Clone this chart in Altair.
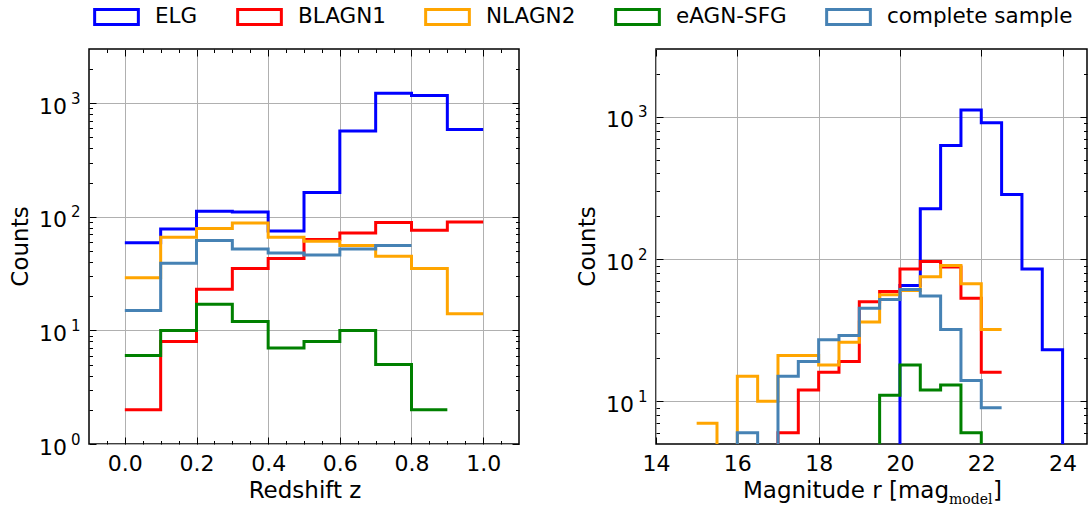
import altair as alt
import pandas as pd

SERIES = ["ELG", "BLAGN1", "NLAGN2", "eAGN-SFG", "complete sample"]
COLORS = ["#0000ff", "#ff0000", "#ffa500", "#008000", "#4682b4"]

# Redshift histograms: bins of width 0.1, every series starts at z = 0
Z_BIN = 0.1
Z_START = [0.0, 0.0, 0.0, 0.0, 0.0]
elg_z = [59, 78, 112, 110, 75, 164, 570, 1225, 1167, 586]
blagn1_z = [2, 8, 23, 35, 43, 63, 72, 89, 76, 90]
nlagn2_z = [29, 66, 79, 88, 66, 61, 56, 45, 35, 14]
eagn_sfg_z = [6, 10, 17, 12, 7, 8, 10, 5, 2]
complete_z = [15, 39, 62, 52, 48, 46, 52, 56]

# r-band magnitude histograms: bins of width 0.5 mag (first bin edge per series)
R_BIN = 0.5
R_START = [19.5, 16.5, 15.0, 19.0, 15.5]
elg_r = [0, 65, 226, 628, 1115, 909, 284, 85, 23, 0]
blagn1_r = [0, 6, 12, 16, 19, 50, 59, 85, 96, 88, 53, 16]
nlagn2_r = [7, 0, 15, 10, 21, 21, 18, 26, 36, 56, 60, 75, 90, 67, 32]
eagn_sfg_r = [0, 11, 18, 12, 13, 6, 0]
complete_r = [0, 6, 0, 15, 19, 27, 29, 45, 52, 61, 55, 32, 14, 9]

# tick values
Z_MAJOR = [0.0, 0.2, 0.4, 0.6, 0.8, 1.0]
Z_MINOR = [-0.05, 0.05, 0.1, 0.15, 0.25, 0.3, 0.35, 0.45, 0.5, 0.55,
           0.65, 0.7, 0.75, 0.85, 0.9, 0.95, 1.05]
R_MAJOR = [14, 16, 18, 20, 22, 24]
N_MAJOR_Z = [1, 10, 100, 1000]
N_MAJOR_R = [10, 100, 1000]
N_MINOR_Z = [2, 3, 4, 5, 6, 7, 8, 9, 20, 30, 40, 50, 60, 70, 80, 90,
             200, 300, 400, 500, 600, 700, 800, 900, 2000]
N_MINOR_R = [6, 7, 8, 9, 20, 30, 40, 50, 60, 70, 80, 90,
             200, 300, 400, 500, 600, 700, 800, 900, 2000]

FONT = "DejaVu Sans"
TICK_FONT = 22
TITLE_FONT = 23
MAJ, MIN = 7, 3.5
H = 395
W_LEFT, W_RIGHT = 430, 431


def step_rows(start, width, counts, name):
    rows = [{"edge": round(start + i * width, 4), "count": c, "series": name}
            for i, c in enumerate(counts)]
    rows.append({"edge": round(start + len(counts) * width, 4),
                 "count": counts[-1], "series": name})
    return rows


def table(starts, width, groups):
    rows = []
    for name, start, counts in zip(SERIES, starts, groups):
        rows += step_rows(start, width, counts, name)
    return pd.DataFrame(rows)


z_df = table(Z_START, Z_BIN, [elg_z, blagn1_z, nlagn2_z, eagn_sfg_z, complete_z])
r_df = table(R_START, R_BIN, [elg_r, blagn1_r, nlagn2_r, eagn_sfg_r, complete_r])

LEGEND = alt.Legend(
    title=None, orient="none", direction="horizontal", legendX=4, legendY=-55.5,
    symbolType="M-1,-0.34L1,-0.34L1,0.34L-1,0.34Z", symbolSize=1910,
    symbolStrokeWidth=3, symbolFillColor="white", labelFont=FONT,
    labelFontSize=21.5, labelColor="black", labelOffset=15, columnPadding=33,
    labelLimit=400, padding=0,
)


def inward(orient, values, size, **kw):
    # ticks inside the frame: the axis line is pulled in by the tick length
    return alt.Axis(orient=orient, values=values, tickSize=size, offset=-size,
                    domain=False, tickColor="black", tickWidth=1, title=None, **kw)


def power_axes(values):
    # "10" plus a raised, smaller exponent
    base = inward("left", values, MAJ, labelExpr="'10'", grid=True,
                  labelPadding=22.5, labelOffset=3, labelOverlap=False,
                  labelFontSize=TICK_FONT)
    expo = alt.Axis(orient="left", values=values, ticks=False, domain=False,
                    grid=False, title=None, labelPadding=9, labelOffset=-5,
                    labelFontSize=15, labelOverlap=False,
                    labelExpr="'' + round(log(datum.value) / LN10)")
    return base, expo


def text(label, x, y, size=TITLE_FONT, font=FONT, align="center", angle=0):
    return alt.Chart(pd.DataFrame({"k": [0]})).mark_text(
        text=label, align=align, baseline="alphabetic", font=font,
        fontSize=size, color="black", angle=angle,
    ).encode(x=alt.value(x), y=alt.value(y))


def panel(df, xdom, ydom, floor, xmaj, xmin, ymaj, ymin, xfmt):
    xs = alt.Scale(domain=xdom, nice=False, zero=False)
    ys = alt.Scale(type="log", domain=ydom, nice=False)
    y_base, y_expo = power_axes(ymaj)
    x_axes = [
        inward("bottom", xmaj, MAJ, format=xfmt, grid=True, labelFlush=False,
               labelOverlap=False, labelPadding=9, labelFontSize=TICK_FONT),
        inward("top", xmaj, MAJ, labels=False, grid=False),
        inward("bottom", xmin, MIN, labels=False, grid=False) if xmin else None,
        inward("top", xmin, MIN, labels=False, grid=False) if xmin else None,
        None,
    ]
    y_axes = [
        y_base,
        inward("right", ymaj, MAJ, labels=False, grid=False),
        inward("left", ymin, MIN, labels=False, grid=False),
        inward("right", ymin, MIN, labels=False, grid=False),
        y_expo,
    ]
    color = alt.Color("series:N", scale=alt.Scale(domain=SERIES, range=COLORS),
                      legend=LEGEND)
    layers = []
    for i, name in enumerate(SERIES):
        layers.append(
            alt.Chart(df[df.series == name])
            .transform_calculate(shown=f"max(datum.count, {floor})")
            .mark_line(interpolate="step-after", strokeWidth=3, clip=True)
            .encode(
                x=alt.X("edge:Q", scale=xs, axis=x_axes[i]),
                y=alt.Y("shown:Q", scale=ys, axis=y_axes[i]),
                color=color,
            )
        )
    return layers


left_layers = panel(z_df, [-0.1, 1.1], [1, 3000], 0.1, Z_MAJOR, Z_MINOR,
                    N_MAJOR_Z, N_MINOR_Z, ".1f")
right_layers = panel(r_df, [14, 24.6], [5, 3000], 0.5, R_MAJOR, None,
                     N_MAJOR_R, N_MINOR_R, "d")

left_titles = [
    text("Redshift z", 216, H + 54),
    text("Counts", -60.7, H / 2, angle=270),
]
right_titles = [
    text("Magnitude r [mag", 293, H + 54, align="right"),
    text("model", 293, H + 60, size=14, font="DejaVu Serif", align="left"),
    text("]", 337, H + 54, align="left"),
    text("Counts", -61, H / 2, angle=270),
]

left = (
    alt.layer(*left_layers, *left_titles)
    .resolve_axis(x="independent", y="independent")
    .properties(width=W_LEFT, height=H)
)
right = (
    alt.layer(*right_layers, *right_titles)
    .resolve_axis(x="independent", y="independent")
    .properties(width=W_RIGHT, height=H)
)

chart = (
    alt.hconcat(left, right, spacing=137, bounds="flush")
    .properties(
        autosize=alt.AutoSizeParams(type="none"),
        padding={"left": 89, "top": 49, "right": 999, "bottom": 465},
    )
    .configure_view(stroke="black", strokeWidth=1.5)
    .configure_axis(
        labelFont=FONT, labelColor="black", gridColor="#b0b0b0",
        gridWidth=1, gridOpacity=1,
    )
)

chart.save("out.html", embed_options={"renderer": "svg", "actions": False})
